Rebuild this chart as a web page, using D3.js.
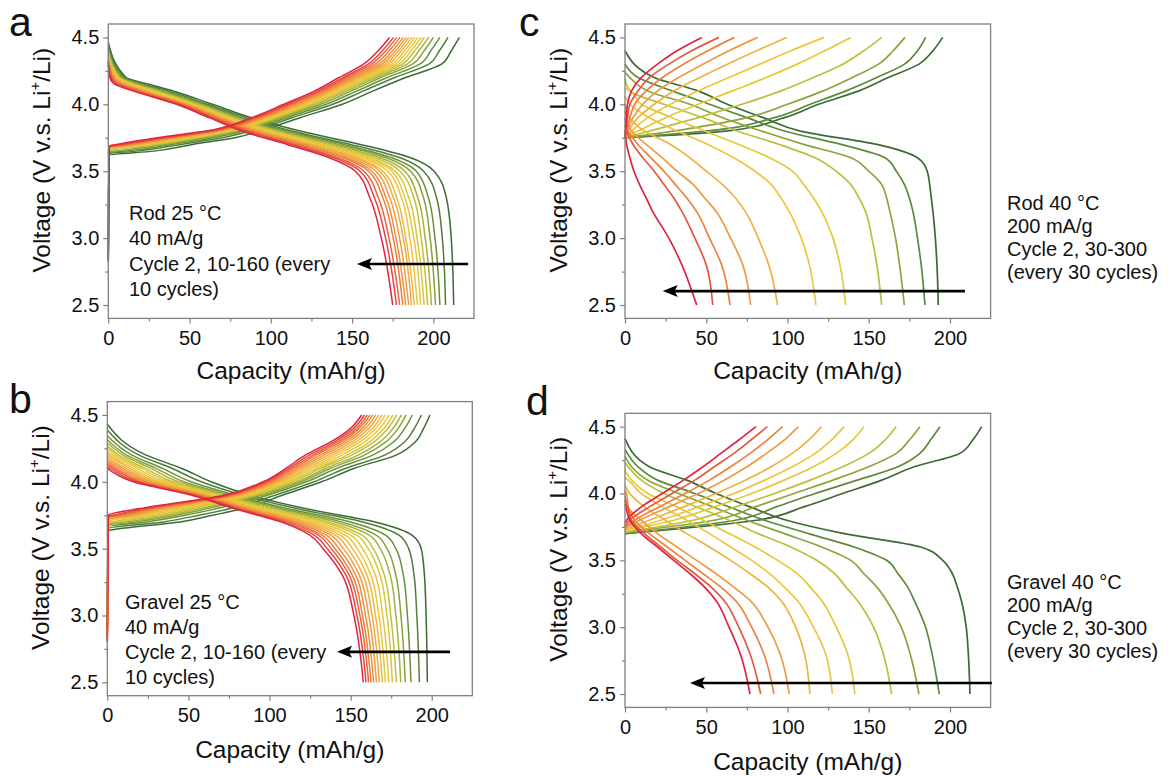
<!DOCTYPE html>
<html><head><meta charset="utf-8">
<script src="https://cdn.jsdelivr.net/npm/d3@7"></script>
<style>body{margin:0;background:#fff}</style>
</head><body><svg id="chart" width="1168" height="776"></svg>
<script>
// ---------------- DATA ----------------
const cyclesAB = [2,10,20,30,40,50,60,70,80,90,100,110,120,130,140,150,160];
const cyclesCD = [2,30,60,90,120,150,180,210,240,270,300];
const xTicks = [0,50,100,150,200];
const xMinorTicks = [25,75,125,175];
const yTicks = [2.5,3.0,3.5,4.0,4.5];
const yMinorTicks = [2.75,3.25,3.75,4.25];

// Panel a (Rod 25 °C) discharge: capacity at each grid voltage, start voltage at 0 mAh/g
const gridDisA = [4.2,4.15,4.1,4.0,3.9,3.8,3.7,3.6,3.5,3.3,3.0,2.5];
const startDisA = [4.46,4.44,4.42,4.41,4.40,4.39,4.38,4.37,4.365,4.356,4.35,4.34,4.334,4.327,4.318,4.31,4.30];
const capDisA = [
 [11,25,40,64,88,118,155,186,200.5,208,211,212.5],
 [10,22,37,61,85,113,149,179.5,194,202,205.5,207.5],
 [9,20,34,59,82,110,145,174.5,189.5,197,201,204],
 [8,19,32.5,57.5,80,107,141.5,171,186,194,198,201.3],
 [7.3,17,31,56,78.5,104.5,138.5,167.5,182.5,190.5,195,198.8],
 [6.7,16,29,54.5,77,102.5,135.5,164.5,179.5,188,192.5,196.5],
 [6,14.7,27.8,53,75,100.5,133,161.5,176.5,185,190,194.3],
 [5.6,13.7,26.5,52,74,98.5,130.5,159,174.5,182.5,188,192.2],
 [5.1,12.6,25,51,72.5,97,128.5,156.5,172,180.5,185.5,190.2],
 [4.5,11.4,23.8,49.7,71,94.5,125.8,153.5,169,177.5,183,188.3],
 [4.1,10.5,22.8,48.8,70,93,124,151.5,167,175.5,181.5,186.5],
 [3.6,9.5,21.5,47.7,68.8,91.4,121.7,149,164.6,173.2,179.2,184.8],
 [3.1,8.4,20.3,46.6,67.5,89.6,119.5,146.5,162.2,170.9,177,183],
 [2.7,7.6,19.3,45.7,66.4,88.1,117.7,144.5,160.2,169,175.3,181.2],
 [2.1,6.3,17.8,44.4,64.9,86,115,141.5,157.3,166.2,172.7,179.3],
 [1.6,5.3,16.5,43.3,63.6,84.2,112.7,139,154.9,163.8,170.6,177.3],
 [1,4,15,42,62,82,110,136,152,161,168,175]
];
// Panel a charge
const gridChgA = [3.65,3.7,3.75,3.8,3.9,4.0,4.1,4.2,4.3,4.4,4.5];
const ocvChgA = [3.10,3.05,3.0,3.0,2.98,2.96,2.95,2.93,2.92,2.9,2.9,2.88,2.87,2.86,2.85,2.83,2.82];
const startChgA = [3.62,3.631,3.64,3.646,3.651,3.655,3.658,3.661,3.665,3.668,3.67,3.673,3.676,3.679,3.683,3.686,3.69];
const capChgA = [
 [28,52,78,93,118,144,163,183,205,211,216],
 [17,44.3,70.2,87.6,113.1,138.1,157.1,176.3,197.2,203.7,209],
 [10,38.9,64.6,83.8,109.6,134,153,171.6,191.6,198.4,204],
 [4,34.5,60.1,80.7,106.8,130.6,149.6,167.7,187.1,194.3,200],
 [null,31.2,56.8,78.4,104.7,128.1,147.1,164.9,183.8,191.1,197],
 [null,28.5,54,76.5,103,126,145,162.5,181,188.5,194.5],
 [null,26.3,51.7,74.9,101.6,124.3,143.3,160.6,178.7,186.4,192.5],
 [null,24.1,49.5,73.4,100.2,122.7,141.7,158.7,176.5,184.3,190.5],
 [null,22.1,47.4,72,98.9,121.1,140.1,156.9,174.4,182.3,188.6],
 [null,20.1,45.4,70.6,97.6,119.6,138.6,155.2,172.4,180.4,186.8],
 [null,18.1,43.4,69.2,96.4,118,137,153.4,170.4,178.6,185],
 [null,16.3,41.5,67.9,95.2,116.6,135.6,151.8,168.5,176.8,183.3],
 [null,14.3,39.5,66.5,93.9,115.1,134.1,150.1,166.5,174.9,181.5],
 [null,12.1,37.2,65,92.5,113.4,132.4,148.2,164.2,172.8,179.5],
 [null,9.9,35,63.5,91.2,111.8,130.8,146.3,162,170.7,177.5],
 [null,7.7,32.8,61.9,89.7,110.1,129.1,144.4,159.8,168.6,175.5],
 [null,5,30,60,88,108,127,142,157,166,173]
];

// Panel b (Gravel 25 °C) discharge
const gridDisB = [4.2,4.1,4.0,3.9,3.8,3.7,3.6,3.5,3.3,3.0,2.5];
const startDisB = [4.43,4.388,4.345,4.315,4.292,4.269,4.251,4.232,4.215,4.199,4.183,4.168,4.153,4.14,4.128,4.114,4.10];
const capDisB = [
 [24,46,64,88,122,165,188,193.5,195.5,196.5,197.3],
 [19.6,40,57.9,83.4,116.4,157.5,180,185.8,189.1,190.8,192.4],
 [15.2,34,51.6,78.7,110.6,149.8,171.7,177.9,182.5,185,187.2],
 [12,30,47.2,75.4,106.6,144.4,166,172.4,177.9,181,183.7],
 [9.7,27,43.9,73,103.6,140.3,161.7,168.2,174.4,177.9,180.9],
 [7.2,23.5,40.5,70.4,100.5,136.1,157.2,163.9,170.8,174.7,178.2],
 [5.5,21,38,68.5,98.2,133.1,153.9,160.8,168.2,172.4,175.7],
 [3.5,18.5,35.2,66.4,95.6,129.7,150.3,157.3,165.3,169.8,173.5],
 [1.6,16,32.7,64.5,93.3,126.5,146.9,154,162.5,167.4,171.4],
 [null,13.8,30.4,62.8,91.2,123.6,143.8,151.1,160.1,165.3,169.6],
 [null,11.5,28,61,89,120.8,140.8,148.2,157.7,163.2,167.7],
 [null,9.5,25.9,59.4,87.1,118.2,138,145.5,155.4,161.2,165.9],
 [null,7.5,23.8,57.8,85.1,115.6,135.2,142.8,153.2,159.2,164.2],
 [null,5.5,21.8,56.3,83.3,113.1,132.6,140.3,151.1,157.3,162.6],
 [null,3.9,20,55,81.7,111,130.3,138.1,149.2,155.7,161.1],
 [null,2,18.1,53.5,79.9,108.5,127.7,135.6,147.2,153.9,159.5],
 [null,null,16,52,78,107,125,133,145,152,157.8]
];
// Panel b charge
const gridChgB = [3.65,3.7,3.75,3.8,3.9,4.0,4.1,4.2,4.3,4.4,4.5];
const ocvChgB = [2.95,2.92,2.9,2.9,2.88,2.88,2.87,2.86,2.86,2.85,2.84,2.84,2.83,2.82,2.82,2.81,2.8];
const startChgB = [3.635,3.65,3.665,3.675,3.683,3.691,3.697,3.704,3.71,3.716,3.721,3.726,3.731,3.736,3.74,3.745,3.75];
const capChgB = [
 [8,45,65,84,108,132,152,178,190,195,198.9],
 [null,34.6,56.5,75.9,103.4,127.4,146.7,170.9,183.4,189.3,193.6],
 [null,24,48,67.5,98.7,122.7,141.2,163.6,176.6,183.4,188],
 [null,17,42.4,61.7,95.4,119.4,137.3,158.5,171.9,179.3,184.2],
 [null,12,37.9,57.2,93,117,134.4,154.6,168.3,176.2,181.3],
 [null,6,33.3,52.7,90.4,114.4,131.5,150.6,164.6,173,178.3],
 [null,2,29.9,49.4,88.5,112.5,129.3,147.7,161.9,170.7,176.1],
 [null,null,26,45.7,86.4,110.4,126.8,144.5,158.9,168,173.7],
 [null,null,22.6,42.2,84.5,108.5,124.6,141.4,156,165.6,171.4],
 [null,null,19.2,39.1,82.8,106.8,122.6,138.7,153.5,163.5,169.4],
 [null,null,16.4,36.1,81,105,120.5,136.1,151.1,161.3,167.4],
 [null,null,13.6,33.2,79.4,103.4,118.7,133.5,148.7,159.3,165.5],
 [null,null,10.7,30.4,77.8,101.8,116.8,131.1,146.4,157.3,163.6],
 [null,null,7.9,27.7,76.3,100.3,115,128.7,144.2,155.4,161.9],
 [null,null,5.6,25.4,75,99,113.5,126.7,142.4,153.8,160.3],
 [null,null,2.8,22.8,73.5,97.5,111.8,124.4,140.2,151.9,158.6],
 [null,null,null,20,72,96,110,122,138,150,156.8]
];

// Panel c (Rod 40 °C) discharge
const gridDisC = [4.2,4.1,4.0,3.9,3.8,3.7,3.6,3.5,3.4,3.3,3.2,3.0,2.8,2.5];
const startDisC = [4.40,4.30,4.24,4.19,4.12,4.06,4.00,3.95,3.90,3.85,3.80];
const capDisC = [
 [18,45,63,85,108,155,180,186,187.5,188.5,189.5,191,192,192.8],
 [8,29,52,75,98,133,160,167,172,175,177.2,180,182.3,184.6],
 [3,14,40,60,84,110,139,150,158,161,163,166.5,169,171.9],
 [null,3,24,48,69,95,117,130,139,144,148,152,155,158],
 [null,3,10,29,49,70,89,103,110,116,121,128,132.3,135.8],
 [null,null,3,15,32,51,67,80,90,96,101,108.5,113.5,117.5],
 [null,null,null,3,12,28,40,50,60,68,74,82,88.5,93.9],
 [null,null,null,1,4,13,23,32,42,49,56,65,72.5,77.3],
 [null,null,null,null,2,8,16,24,31,38,44,52,59.5,64.6],
 [null,null,null,null,1,5,11,18,24,30,35,43,50,54],
 [null,null,null,null,null,1,3,5.5,9,13,17,27,35,44.1]
];
// Panel c charge
const gridChgC = [3.8,3.9,4.0,4.1,4.2,4.3,4.4,4.5];
const startChgC = [3.75,3.75,3.75,3.75,3.75,3.75,3.75,3.75,3.75,3.75,3.75];
const capChgC = [
 [62,98,119,144,162,181,189.5,195.5],
 [50,92,114,136,155,172,180,185],
 [30,75,100,122,140,156,165,172.3],
 [15,45,72,96,116,134,147,158],
 [8,25,45,66,87,106,123,139],
 [4,14,28,45,64,83,102,122.5],
 [2,8,18,30,46,63,81,99.5],
 [1.5,5,11,20,33,48,64,81.6],
 [1,3,6,13,23,36,51,67.3],
 [0.5,1.5,3,8,15,27,41,57.8],
 [0.3,0.8,1.5,4,10,20,32,47.2]
];

// Panel d (Gravel 40 °C) discharge
const gridDisD = [4.2,4.1,4.0,3.9,3.8,3.7,3.6,3.5,3.4,3.3,3.2,3.0,2.8,2.5];
const startDisD = [4.41,4.33,4.28,4.23,4.17,4.12,4.06,4.02,3.98,3.95,3.92];
const capDisD = [
 [15,38,56,77,99.5,135,182,195.5,201.5,204.5,207,210,211.3,212.3],
 [8,20,43,64,86,113,141,161,168,174,178,185,189,193.4],
 [4,14,33,54,75,98,121,139,147,155,161,170,175.5,180.9],
 [2,10,24,44,64,82,102,118,129,136,143,153,159,164.1],
 [null,4,14,32,48,64,80,94,106,114,121,130,137,141.5],
 [null,2,10,23,38,52,65,78,89,98,106,116,123.5,127.6],
 [null,null,3,12,25,38,52,65,77,88,96,105,110.5,113.8],
 [null,null,1,2,10,20,32,44,56,67,77,88,95.5,101.1],
 [null,null,null,2,6,15,26,37,48,59,68,78,85.5,91.7],
 [null,null,null,1.5,4,12,22,32,43,53,61,70,77,83.5],
 [null,null,null,0.5,3,10,20,30,40,49,56,64,71,76.9]
];
// Panel d charge
const gridChgD = [3.8,3.9,4.0,4.1,4.2,4.3,4.4,4.5];
const startChgD = [3.70,3.70,3.71,3.71,3.72,3.72,3.73,3.74,3.75,3.76,3.78];
const capChgD = [
 [81,110,134,158,178,206,214,219.5],
 [68,93,117,143,168,181.5,188,193.8],
 [55,80,104,128,150,167,175,181.5],
 [42,68,92,114,134,150,160,166.8],
 [30,55,78,98,116,130,140,147.1],
 [22,45,67,86,103,117,127,134.8],
 [15,36,56,74,90,103,113,121],
 [9,27,45,61,75,87,98,106.7],
 [6,21,37,52,65,77,87.5,97],
 [3,15,29,43,55,67,77.5,87.6],
 [1,10,23,36,48,59,70,80.6]
];

// ---------------- DRAWING ----------------
const FONT = '"Liberation Sans", Arial, Helvetica, sans-serif';
const svg = d3.select('#chart');
svg.append('rect').attr('width',1168).attr('height',776).attr('fill','#fff');

const colorScale = d3.scaleLinear()
  .domain([0,0.1,0.2,0.3,0.4,0.5,0.6,0.7,0.8,0.9,1])
  .range(['#3b6b35','#5b8a3a','#8ca43b','#bdbf3a','#e2ca38','#f0c43c','#f0b23f','#ef9a40','#ec823d','#e6583e','#e0243e'])
  .interpolate(d3.interpolateRgb);

function disPoints(v0, grid, caps){
  const pts = [[0, v0]];
  grid.forEach((v,j)=>{ if(caps[j]!==null) pts.push([caps[j], v]); });
  return pts;
}
function chgPoints(ocv, v1, grid, caps){
  const pts = [];
  if(ocv!==null) { pts.push([0, ocv]); pts.push([0.6, v1]); } else pts.push([0, v1]);
  grid.forEach((v,j)=>{ if(caps[j]!==null) pts.push([caps[j], v]); });
  return pts;
}

const panels = [
 {letter:'a', lx:9, ly:36, left:108.3, right:474, top:24, bottom:318.4, lw:1.5,
  cycles:cyclesAB,
  dis:{grid:gridDisA, start:startDisA, caps:capDisA},
  chg:{grid:gridChgA, ocv:ocvChgA, start:startChgA, caps:capChgA},
  text:{x:129, y:220, dy:25.3, lines:['Rod 25 °C','40 mA/g','Cycle 2, 10-160 (every','10 cycles)']},
  arrow:{from:221.4, to:153, v:2.806}, xtitleY:379},
 {letter:'b', lx:9, ly:413, left:107.3, right:472.3, top:401.6, bottom:695.7, lw:1.5,
  cycles:cyclesAB,
  dis:{grid:gridDisB, start:startDisB, caps:capDisB},
  chg:{grid:gridChgB, ocv:ocvChgB, start:startChgB, caps:capChgB},
  text:{x:125, y:609, dy:25, lines:['Gravel 25 °C','40 mA/g','Cycle 2, 10-160 (every','10 cycles)']},
  arrow:{from:211.3, to:141.6, v:2.728}, xtitleY:758},
 {letter:'c', lx:519, ly:36, left:625, right:990.6, top:24, bottom:318.4, lw:1.7,
  cycles:cyclesCD,
  dis:{grid:gridDisC, start:startDisC, caps:capDisC},
  chg:{grid:gridChgC, ocv:null, start:startChgC, caps:capChgC},
  text:{x:1007, y:210, dy:23, lines:['Rod 40 °C','200 mA/g','Cycle 2, 30-300','(every 30 cycles)']},
  arrow:{from:209.2, to:23.2, v:2.604}, xtitleY:379},
 {letter:'d', lx:526, ly:415, left:625, right:990.6, top:413.3, bottom:707.4, lw:1.7,
  cycles:cyclesCD,
  dis:{grid:gridDisD, start:startDisD, caps:capDisD},
  chg:{grid:gridChgD, ocv:null, start:startChgD, caps:capChgD},
  text:{x:1007, y:589, dy:23, lines:['Gravel 40 °C','200 mA/g','Cycle 2, 30-300','(every 30 cycles)']},
  arrow:{from:225.8, to:40, v:2.582}, xtitleY:770}
];

panels.forEach(p => {
  const x = d3.scaleLinear().domain([0,225]).range([p.left, p.right]);
  const y = d3.scaleLinear().domain([2.4,4.6]).range([p.bottom, p.top]);
  const g = svg.append('g');
  const n = p.cycles.length;
  const line = d3.line().x(d=>x(d[0])).y(d=>y(d[1])).curve(d3.curveMonotoneY);

  // curves: cycle 2 (green) first, last cycle (red) on top
  const curves = g.append('g').attr('fill','none').attr('stroke-width',p.lw).attr('stroke-linejoin','round');
  p.cycles.forEach((cyc,i) => {
    const col = colorScale(i/(n-1));
    const dpts = disPoints(p.dis.start[i], p.dis.grid, p.dis.caps[i]);
    const cpts = chgPoints(p.chg.ocv ? p.chg.ocv[i] : null, p.chg.start[i], p.chg.grid, p.chg.caps[i]);
    curves.append('path').datum(dpts).attr('d', line).attr('stroke', col);
    curves.append('path').datum(cpts).attr('d', line).attr('stroke', col);
  });

  // frame
  g.append('rect').attr('x',p.left).attr('y',p.top).attr('width',p.right-p.left).attr('height',p.bottom-p.top)
    .attr('fill','none').attr('stroke','#7f7f7f').attr('stroke-width',1.3);

  // axes
  const xa = g.append('g').attr('transform',`translate(0,${p.bottom})`)
    .call(d3.axisBottom(x).tickValues(xTicks).tickFormat(d3.format('d')).tickSize(5).tickPadding(7));
  const xm = g.append('g').attr('transform',`translate(0,${p.bottom})`)
    .call(d3.axisBottom(x).tickValues(xMinorTicks).tickFormat('').tickSize(3));
  const ya = g.append('g').attr('transform',`translate(${p.left},0)`)
    .call(d3.axisLeft(y).tickValues(yTicks).tickFormat(d3.format('.1f')).tickSize(5).tickPadding(4));
  const ym = g.append('g').attr('transform',`translate(${p.left},0)`)
    .call(d3.axisLeft(y).tickValues(yMinorTicks).tickFormat('').tickSize(3));
  [xa,xm,ya,ym].forEach(a => {
    a.select('.domain').remove();
    a.selectAll('line').attr('stroke','#7f7f7f').attr('stroke-width',1.2);
    a.selectAll('text').attr('font-family',FONT).attr('font-size',20).attr('fill','#111');
  });

  // axis titles
  g.append('text').attr('x',(p.left+p.right)/2).attr('y',p.xtitleY).attr('text-anchor','middle')
    .attr('font-family',FONT).attr('font-size',24.5).attr('fill','#111').text('Capacity (mAh/g)');
  const yt = g.append('text').attr('transform',`translate(${p.left-58},${(p.top+p.bottom)/2-11}) rotate(-90)`)
    .attr('text-anchor','middle').attr('font-family',FONT).attr('font-size',24.5).attr('fill','#111');
  yt.append('tspan').text('Voltage (V v.s. Li');
  yt.append('tspan').attr('font-size',15).attr('dy',-10).text('+');
  yt.append('tspan').attr('dy',10).text('/Li)');

  // panel letter
  svg.append('text').attr('x',p.lx).attr('y',p.ly).attr('font-family',FONT).attr('font-size',41)
    .attr('fill','#111').text(p.letter);

  // annotation text
  p.text.lines.forEach((t,k) => {
    svg.append('text').attr('x',p.text.x).attr('y',p.text.y + k*p.text.dy)
      .attr('font-family',FONT).attr('font-size',20).attr('fill','#111').text(t);
  });

  // arrow
  const ay = y(p.arrow.v), ax1 = x(p.arrow.from), axt = x(p.arrow.to);
  g.append('line').attr('x1',ax1).attr('x2',axt+10).attr('y1',ay).attr('y2',ay)
    .attr('stroke','#000').attr('stroke-width',2.6);
  g.append('path').attr('d',`M${axt},${ay}L${axt+15},${ay-6}L${axt+12},${ay}L${axt+15},${ay+6}Z`).attr('fill','#000');
});
</script></body></html>
